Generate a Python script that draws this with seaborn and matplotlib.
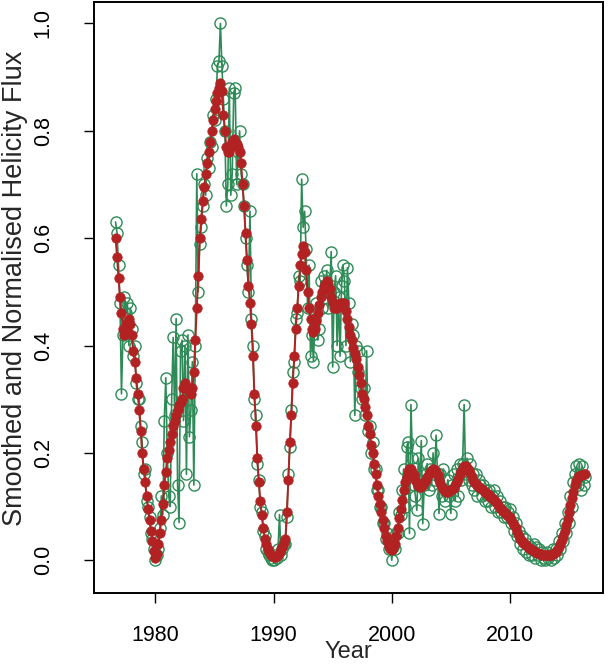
import numpy as np
import pandas as pd
import matplotlib
matplotlib.use("Agg")
import matplotlib.pyplot as plt
import seaborn as sns

# time axis: 8 samples per year, starting at 1976.625
start_year = 1976.625
step = 0.125

# smoothed flux (red), one row per year
smoothed = [
    0.60, 0.565, 0.525,                                      # 1976
    0.49, 0.46, 0.43, 0.42, 0.44, 0.43, 0.45, 0.44,          # 1977
    0.42, 0.39, 0.37, 0.34, 0.31, 0.28, 0.24, 0.20,          # 1978
    0.17, 0.145, 0.12, 0.095, 0.075, 0.055, 0.035, 0.018,    # 1979
    0.005, 0.012, 0.03, 0.05, 0.075, 0.105, 0.14, 0.165,     # 1980
    0.19, 0.205, 0.22, 0.235, 0.25, 0.26, 0.27, 0.28,        # 1981
    0.29, 0.295, 0.30, 0.32, 0.33, 0.325, 0.32, 0.315,       # 1982
    0.31, 0.32, 0.35, 0.41, 0.47, 0.53, 0.60, 0.635,         # 1983
    0.67, 0.695, 0.72, 0.74, 0.76, 0.78, 0.80, 0.82,         # 1984
    0.84, 0.855, 0.87, 0.88, 0.89, 0.875, 0.83, 0.80,        # 1985
    0.77, 0.76, 0.76, 0.77, 0.78, 0.785, 0.78, 0.775,        # 1986
    0.77, 0.76, 0.74, 0.70, 0.66, 0.61, 0.56, 0.51,          # 1987
    0.48, 0.44, 0.38, 0.31, 0.25, 0.19, 0.145, 0.11,         # 1988
    0.085, 0.06, 0.04, 0.03, 0.02, 0.015, 0.01, 0.008,       # 1989
    0.006, 0.006, 0.008, 0.01, 0.015, 0.02, 0.025, 0.032,    # 1990
    0.04, 0.09, 0.15, 0.22, 0.27, 0.33, 0.38, 0.43,          # 1991
    0.47, 0.51, 0.55, 0.57, 0.585, 0.575, 0.54, 0.50,        # 1992
    0.47, 0.45, 0.43, 0.425, 0.43, 0.445, 0.46, 0.475,       # 1993
    0.49, 0.50, 0.51, 0.515, 0.52, 0.515, 0.505, 0.49,       # 1994
    0.48, 0.47, 0.47, 0.47, 0.475, 0.48, 0.48, 0.48,         # 1995
    0.48, 0.465, 0.45, 0.435, 0.42, 0.41, 0.395, 0.385,      # 1996
    0.375, 0.36, 0.345, 0.33, 0.31, 0.30, 0.285, 0.27,       # 1997
    0.25, 0.235, 0.215, 0.20, 0.18, 0.16, 0.14, 0.12,        # 1998
    0.105, 0.09, 0.075, 0.06, 0.045, 0.035, 0.025, 0.02,     # 1999
    0.019, 0.022, 0.03, 0.045, 0.06, 0.078, 0.095, 0.112,    # 2000
    0.13, 0.145, 0.155, 0.165, 0.17, 0.17, 0.165, 0.158,     # 2001
    0.15, 0.143, 0.138, 0.136, 0.137, 0.14, 0.145, 0.15,     # 2002
    0.155, 0.16, 0.165, 0.168, 0.17, 0.168, 0.165, 0.158,    # 2003
    0.15, 0.143, 0.137, 0.133, 0.13, 0.128, 0.128, 0.129,    # 2004
    0.13, 0.132, 0.135, 0.14, 0.145, 0.152, 0.16, 0.166,     # 2005
    0.172, 0.175, 0.175, 0.172, 0.168, 0.162, 0.155, 0.15,   # 2006
    0.145, 0.142, 0.14, 0.137, 0.135, 0.133, 0.13, 0.128,    # 2007
    0.125, 0.123, 0.12, 0.118, 0.115, 0.113, 0.11, 0.106,    # 2008
    0.102, 0.098, 0.095, 0.092, 0.09, 0.088, 0.085, 0.082,   # 2009
    0.08, 0.075, 0.07, 0.065, 0.06, 0.052, 0.045, 0.04,      # 2010
    0.035, 0.032, 0.03, 0.028, 0.025, 0.022, 0.02, 0.019,    # 2011
    0.018, 0.016, 0.015, 0.013, 0.012, 0.011, 0.01, 0.01,    # 2012
    0.009, 0.009, 0.009, 0.009, 0.01, 0.011, 0.013, 0.016,   # 2013
    0.019, 0.024, 0.03, 0.037, 0.045, 0.055, 0.065, 0.077,   # 2014
    0.09, 0.102, 0.115, 0.128, 0.14, 0.148, 0.155, 0.157,    # 2015
    0.158, 0.159, 0.16, 0.16,                                # 2016
]

# normalised flux (green), same sampling
normalised = [
    0.63, 0.61, 0.55,                                        # 1976
    0.48, 0.31, 0.42, 0.49, 0.46, 0.48, 0.40, 0.47,          # 1977
    0.43, 0.38, 0.40, 0.33, 0.30, 0.30, 0.25, 0.22,          # 1978
    0.16, 0.17, 0.11, 0.10, 0.08, 0.05, 0.04, 0.02,          # 1979
    0.0, 0.01, 0.02, 0.06, 0.12, 0.085, 0.26, 0.34,          # 1980
    0.20, 0.12, 0.10, 0.30, 0.415, 0.27, 0.45, 0.14,         # 1981
    0.07, 0.39, 0.41, 0.26, 0.40, 0.16, 0.42, 0.23,          # 1982
    0.28, 0.37, 0.14, 0.40, 0.72, 0.50, 0.59, 0.62,          # 1983
    0.66, 0.70, 0.68, 0.75, 0.73, 0.78, 0.77, 0.83,          # 1984
    0.82, 0.86, 0.92, 0.93, 1.00, 0.92, 0.86, 0.80,          # 1985
    0.66, 0.70, 0.88, 0.68, 0.72, 0.87, 0.88, 0.70,          # 1986
    0.76, 0.80, 0.72, 0.70, 0.66, 0.60, 0.55, 0.50,          # 1987
    0.65, 0.45, 0.40, 0.30, 0.27, 0.18, 0.15, 0.10,          # 1988
    0.09, 0.055, 0.045, 0.02, 0.015, 0.01, 0.005, 0.0,       # 1989
    0.0, 0.01, 0.005, 0.02, 0.085, 0.01, 0.02, 0.03,         # 1990
    0.03, 0.08, 0.16, 0.21, 0.28, 0.35, 0.37, 0.45,          # 1991
    0.46, 0.53, 0.52, 0.71, 0.62, 0.65, 0.58, 0.47,          # 1992
    0.55, 0.38, 0.42, 0.37, 0.45, 0.48, 0.41, 0.43,          # 1993
    0.52, 0.47, 0.53, 0.50, 0.54, 0.47, 0.50, 0.575,         # 1994
    0.36, 0.50, 0.53, 0.40, 0.49, 0.38, 0.51, 0.55,          # 1995
    0.52, 0.40, 0.545, 0.48, 0.37, 0.44, 0.42, 0.27,         # 1996
    0.40, 0.35, 0.39, 0.32, 0.30, 0.32, 0.27, 0.39,          # 1997
    0.24, 0.25, 0.20, 0.22, 0.17, 0.17, 0.13, 0.13,          # 1998
    0.10, 0.10, 0.07, 0.07, 0.04, 0.05, 0.02, 0.03,          # 1999
    0.0, 0.025, 0.02, 0.05, 0.05, 0.09, 0.085, 0.13,         # 2000
    0.17, 0.10, 0.21, 0.22, 0.05, 0.29, 0.19, 0.14,          # 2001
    0.12, 0.093, 0.19, 0.15, 0.223, 0.068, 0.14, 0.16,       # 2002
    0.18, 0.13, 0.17, 0.14, 0.20, 0.15, 0.233, 0.16,         # 2003
    0.087, 0.16, 0.12, 0.17, 0.11, 0.13, 0.15, 0.12,         # 2004
    0.087, 0.14, 0.16, 0.11, 0.17, 0.12, 0.18, 0.15,         # 2005
    0.18, 0.29, 0.16, 0.19, 0.15, 0.18, 0.14, 0.16,          # 2006
    0.13, 0.16, 0.12, 0.15, 0.14, 0.12, 0.14, 0.11,          # 2007
    0.13, 0.11, 0.13, 0.10, 0.12, 0.13, 0.10, 0.12,          # 2008
    0.09, 0.11, 0.09, 0.10, 0.08, 0.10, 0.08, 0.09,          # 2009
    0.095, 0.07, 0.08, 0.055, 0.07, 0.045, 0.055, 0.03,      # 2010
    0.045, 0.02, 0.04, 0.015, 0.03, 0.01, 0.025, 0.01,       # 2011
    0.03, 0.005, 0.025, 0.01, 0.02, 0.0, 0.015, 0.005,       # 2012
    0.0, 0.015, 0.005, 0.01, 0.0, 0.02, 0.005, 0.02,         # 2013
    0.01, 0.035, 0.02, 0.05, 0.035, 0.07, 0.05, 0.09,        # 2014
    0.07, 0.12, 0.10, 0.145, 0.16, 0.175, 0.14, 0.18,        # 2015
    0.13, 0.175, 0.14, 0.155,                                # 2016
]

x_ticks = [1980, 1990, 2000, 2010]
y_ticks = [0.0, 0.2, 0.4, 0.6, 0.8, 1.0]

years = start_year + step * np.arange(len(smoothed))
df = pd.DataFrame({"Year": years, "smooth": smoothed, "norm": normalised})

sns.set_style("white")
plt.rcParams["font.family"] = ["Liberation Sans", "DejaVu Sans"]

fig = plt.figure(figsize=(6.08, 6.7), dpi=100)
ax = fig.add_axes([0.1546, 0.115, 0.837, 0.882])

green = "#2e8b57"
red = "#b22222"

# noisy normalised series: open circles joined by thin lines
sns.lineplot(data=df, x="Year", y="norm", ax=ax, color=green, lw=1.2,
             marker="o", markersize=8, markerfacecolor="none",
             markeredgecolor=green, markeredgewidth=1.0, sort=False,
             estimator=None)
# smoothed series: filled dots on top
sns.lineplot(data=df, x="Year", y="smooth", ax=ax, color=red, lw=1.4,
             marker="o", markersize=6.8, markerfacecolor=red,
             markeredgecolor=red, markeredgewidth=0.5, sort=False,
             estimator=None)

ax.set_xlim(1974.8, 2017.87)
ax.set_ylim(-0.061, 1.04)
ax.set_xticks(x_ticks)
ax.set_xticklabels([str(t) for t in x_ticks])
ax.set_yticks(y_ticks)
ax.set_yticklabels(["%.1f" % t for t in y_ticks], rotation=90, va="center")
ax.tick_params(direction="out", length=7, width=1, labelsize=15.5, colors="black",
               left=True, bottom=True)
ax.tick_params(axis="x", pad=16)
ax.tick_params(axis="y", pad=22)
for s in ax.spines.values():
    s.set_color("black")
    s.set_linewidth(1.4)

ax.set_xlabel("Year", fontsize=17)
ax.set_ylabel("Smoothed and Normalised Helicity Flux", fontsize=19.5)
ax.xaxis.set_label_coords(0.5, -0.081)
ax.yaxis.set_label_coords(-0.13, 0.515)

fig.savefig("out.png", dpi=100, facecolor="white")
